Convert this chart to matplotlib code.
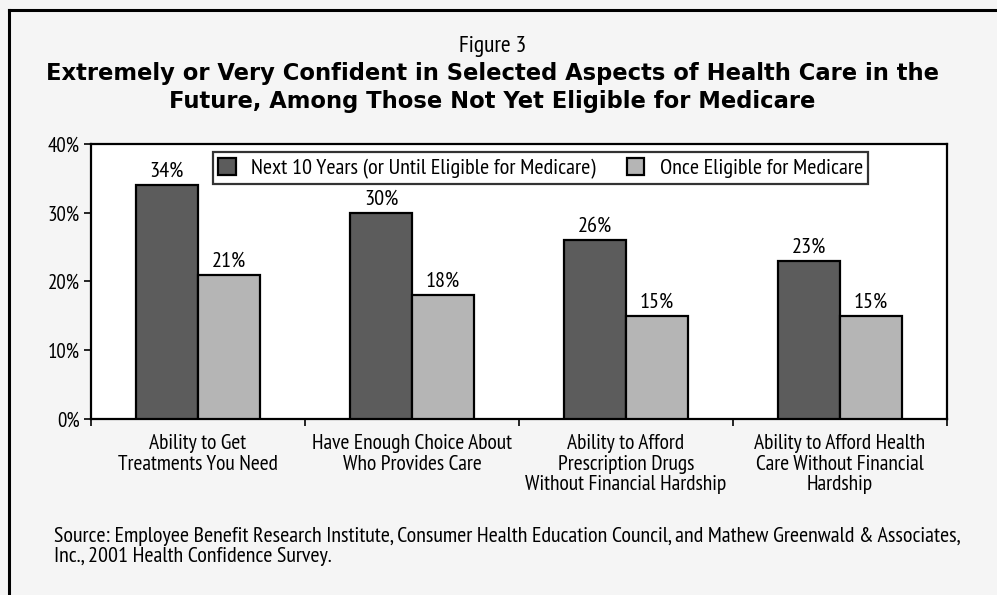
import matplotlib
matplotlib.use("Agg")
import matplotlib.pyplot as plt
from matplotlib.lines import Line2D
import numpy as np

# survey results, percent saying extremely or very confident
categories = [
    "Ability to Get\nTreatments You Need",
    "Have Enough Choice About\nWho Provides Care",
    "Ability to Afford\nPrescription Drugs\nWithout Financial Hardship",
    "Ability to Afford Health\nCare Without Financial\nHardship",
]
series_names = ["Next 10 Years (or Until Eligible for Medicare)", "Once Eligible for Medicare"]
next_10_years = [34, 30, 26, 23]
once_eligible = [21, 18, 15, 15]
y_ticks = [0, 10, 20, 30, 40]

plt.rcParams["font.family"] = ["PT Sans Narrow", "DejaVu Sans"]

fig = plt.figure(figsize=(9.97, 5.95), dpi=100, facecolor="#f5f5f5")
ax = fig.add_axes([0.0913, 0.2958, 0.8586, 0.4622])
ax.set_facecolor("white")

x = np.arange(len(categories))
w = 0.29
b1 = ax.bar(x - w / 2, next_10_years, w, color="#5c5c5c", edgecolor="black",
            linewidth=1.6, label=series_names[0], zorder=3)
b2 = ax.bar(x + w / 2, once_eligible, w, color="#b5b5b5", edgecolor="black",
            linewidth=1.6, label=series_names[1], zorder=3)

for bars, vals in ((b1, next_10_years), (b2, once_eligible)):
    for r, v in zip(bars, vals):
        ax.text(r.get_x() + r.get_width() / 2, v + 0.6, f"{v}%", ha="center",
                va="bottom", fontsize=16)

ax.set_xlim(-0.5, len(categories) - 0.5)
ax.set_ylim(0, 40)
ax.set_yticks(y_ticks)
ax.set_yticklabels([f"{t}%" for t in y_ticks], fontsize=15)
ax.set_xticks(x)
ax.set_xticklabels(categories, fontsize=15.5, linespacing=1.1)
ax.set_xticks(np.arange(-0.5, len(categories)), minor=True)
ax.tick_params(axis="x", which="major", length=0, pad=11)
ax.tick_params(axis="x", which="minor", length=5, width=1.2, direction="out")
ax.tick_params(axis="y", length=5, width=1.2, direction="out", pad=3)
for s in ax.spines.values():
    s.set_linewidth(1.6)

leg = ax.legend(loc="upper center", bbox_to_anchor=(0.525, 0.995), ncol=2,
                fontsize=16, frameon=True, fancybox=False, edgecolor="black",
                handlelength=0.8, handleheight=0.8, handletextpad=0.68,
                columnspacing=1.4, borderpad=0.25, borderaxespad=0.3)
leg.get_frame().set_linewidth(1.6)

# headings
fig.text(0.4945, 0.9126, "Figure 3", ha="center", va="baseline", fontsize=17)
title_font = dict(ha="center", va="baseline", fontsize=16.3, fontweight="bold",
                  family=["DejaVu Sans"])
fig.text(0.4935, 0.8655,
         "Extremely or Very Confident in Selected Aspects of Health Care in the",
         **title_font)
fig.text(0.4935, 0.8185,
         "Future, Among Those Not Yet Eligible for Medicare", **title_font)

# source note
fig.text(0.054, 0.089,
         "Source: Employee Benefit Research Institute, Consumer Health Education Council, "
         "and Mathew Greenwald & Associates,", ha="left", va="baseline", fontsize=15.8)
fig.text(0.054, 0.0555, "Inc., 2001 Health Confidence Survey.",
         ha="left", va="baseline", fontsize=15.8)

# frame lines along the top and left edge
fig.add_artist(Line2D([0.0095, 1.0], [0.984, 0.984], color="black", lw=2.2,
                      transform=fig.transFigure))
fig.add_artist(Line2D([0.0095, 0.0095], [0.0, 0.984], color="black", lw=2.2,
                      transform=fig.transFigure))

fig.savefig("out.png", dpi=100, facecolor=fig.get_facecolor())
